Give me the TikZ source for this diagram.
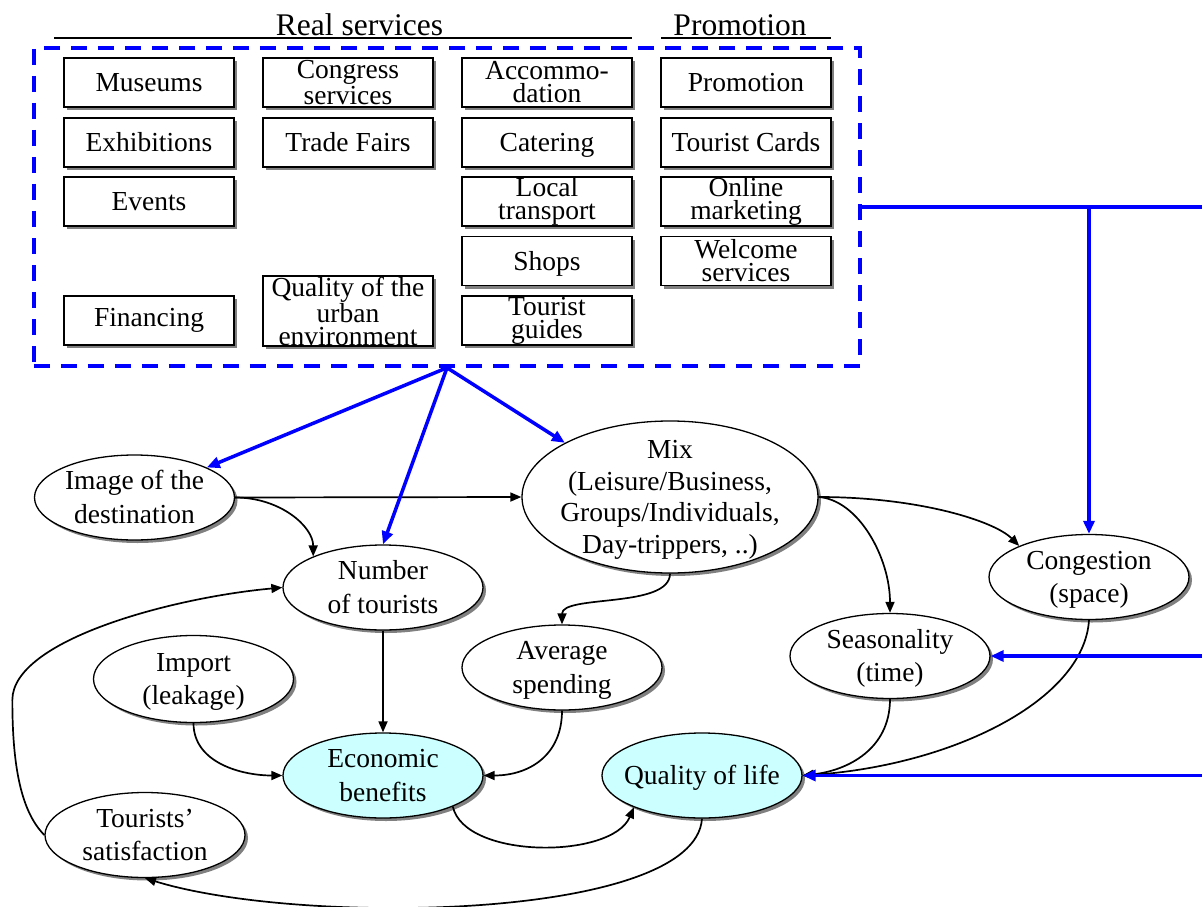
\documentclass[tikz,border=0pt]{standalone}
\usepackage{fontspec}
\setmainfont{Liberation Serif}
\usetikzlibrary{arrows.meta,shapes.geometric,shadows}
\definecolor{lcyan}{HTML}{CCFFFF}
\begin{document}
\begin{tikzpicture}[x=1bp,y=-1bp,
 shad/.style={drop shadow={shadow xshift=3bp,shadow yshift=-3bp,fill=black!50,opacity=1}},
 sbox/.style={draw,line width=1.3bp,fill=white,minimum width=170bp,minimum height=49bp,inner sep=0pt,align=center,font=\fontsize{27.5bp}{23bp}\selectfont,shad},
 nodesc/.style={text depth=0pt},
 ell/.style={ellipse,draw,line width=1.3bp,fill=white,inner xsep=-10bp,inner ysep=0pt,minimum width=200bp,minimum height=85bp,align=center,font=\fontsize{27.5bp}{33.5bp}\selectfont,text height=51.5bp,text depth=0pt,shad},
 conn/.style={line width=1.7bp,-{Triangle[length=11bp,width=9bp]}},
 bline/.style={blue,line width=3.5bp},
 bconn/.style={bline,-{Triangle[length=13bp,width=11bp]}},
 hdr/.style={font=\fontsize{31.5bp}{36bp}\selectfont,anchor=base,inner sep=0pt}]
\useasboundingbox (0,0) rectangle (1202,907);

% headers
\node[hdr] (hreal) at (359.5,35) {Real services};
\node[hdr] (hpromo) at (740,35) {Promotion};
\draw[line width=1.5bp] (54,38) -- (632,38);
\draw[line width=1.5bp] (661,38) -- (831,38);

% dashed frame
\node[draw=blue,dash pattern=on 16bp off 11bp,line width=3.5bp,minimum width=826bp,minimum height=318bp,inner sep=0pt] (rs) at (447,207) {};

% boxes
\node[sbox] (museums) at (149,82.5) {Museums};
\node[sbox] (exhib) at (149,142.5) {Exhibitions};
\node[sbox] (events) at (149,201.5) {Events};
\node[sbox] (financing) at (149,320.5) {Financing};
\node[sbox] (congress) at (348,82.5) {Congress\\services};
\node[sbox] (trade) at (348,142.5) {Trade Fairs};
\node[sbox,minimum height=70bp] (urban) at (348,311) {Quality of the\\urban\\environment};
\node[sbox] (accom) at (547,82.5) {Accommo-\\dation};
\node[sbox,nodesc] (catering) at (547,142.5) {Catering};
\node[sbox] (local) at (547,201.5) {Local\\transport};
\node[sbox,nodesc] (shops) at (547,261) {Shops};
\node[sbox] (guides) at (547,320.5) {Tourist\\guides};
\node[sbox] (promo) at (746,82.5) {Promotion};
\node[sbox] (cards) at (746,142.5) {Tourist Cards};
\node[sbox] (online) at (746,201.5) {Online\\marketing};
\node[sbox] (welcome) at (746,261) {Welcome\\services};

% ellipses
\node[ell] (img) at (134.5,497.5) {Image of the\\destination};
\node[ell] (num) at (383,587.5) {Number\\of tourists};
\node[ell,minimum width=296bp,minimum height=152bp,inner ysep=-8bp,font=\fontsize{27.5bp}{31.5bp}\selectfont,text height=112.5bp] (mix) at (670,497) {Mix\\(Leisure/Business,\\Groups/Individuals,\\Day-trippers, ..)};
\node[ell] (cong) at (1089,577) {Congestion\\(space)};
\node[ell] (seas) at (890,656) {Seasonality\\(time)};
\node[ell,minimum height=87bp] (imp) at (193.5,679) {Import\\(leakage)};
\node[ell] (avg) at (562,667.5) {Average\\spending};
\node[ell,fill=lcyan] (econ) at (383,775.5) {Economic\\benefits};
\node[ell,fill=lcyan,text height=18bp] (qol) at (702,775.5) {Quality of life};
\node[ell] (ts) at (145,835) {Tourists’\\satisfaction};

% black connectors
\draw[conn] (img.east) -- (mix.west);
\draw[conn] (img.east) .. controls +(45,0) and +(0,-30) .. (num.156);
\draw[conn] (num.south) -- (econ.north);
\draw[conn] (mix.south) .. controls +(0,35) and +(0,-30) .. (avg.north);
\draw[conn] (mix.east) .. controls +(40,3) and +(0,-55) .. (seas.north);
\draw[conn] (mix.east) .. controls +(100,0) and +(-25,-25) .. (cong.156);
\draw[conn] (imp.south) .. controls +(0,40) and +(-40,0) .. (econ.west);
\draw[conn] (avg.south) .. controls +(0,45) and +(45,0) .. (econ.east);
\draw[conn] (econ.-24) .. controls +(12,53) and +(-22,52) .. (qol.205);
\draw[conn] (seas.south) .. controls +(0,50) and +(45,-5) .. (qol.east);
\draw[conn] (cong.south) .. controls +(-5,80) and +(150,-10) .. (qol.east);
\draw[conn] (qol.south) .. controls +(-7,102) and +(155,48) .. (ts.south);
\draw[conn] (ts.west) .. controls +(-25,-25) and +(0,60) .. ++(-32,-135) .. controls +(0,-60) and +(-110,10) .. (num.west);

% blue connectors
\coordinate (j1) at (cong.north |- rs.east);
\coordinate (r1) at (1202,207);
\coordinate (r2) at (1202,656);
\coordinate (r3) at (1202,775.5);
\draw[bline] (rs.east) -- (r1);
\draw[bconn] (j1) -- (cong.north);
\draw[bconn] (r2) -- (seas.east);
\draw[bconn] (r3) -- (qol.east);
\draw[bconn] (rs.south) -- (img);
\draw[bconn] (rs.south) -- (num.north);
\draw[bconn] (rs.south) -- (mix.north west);
\end{tikzpicture}
\end{document}
